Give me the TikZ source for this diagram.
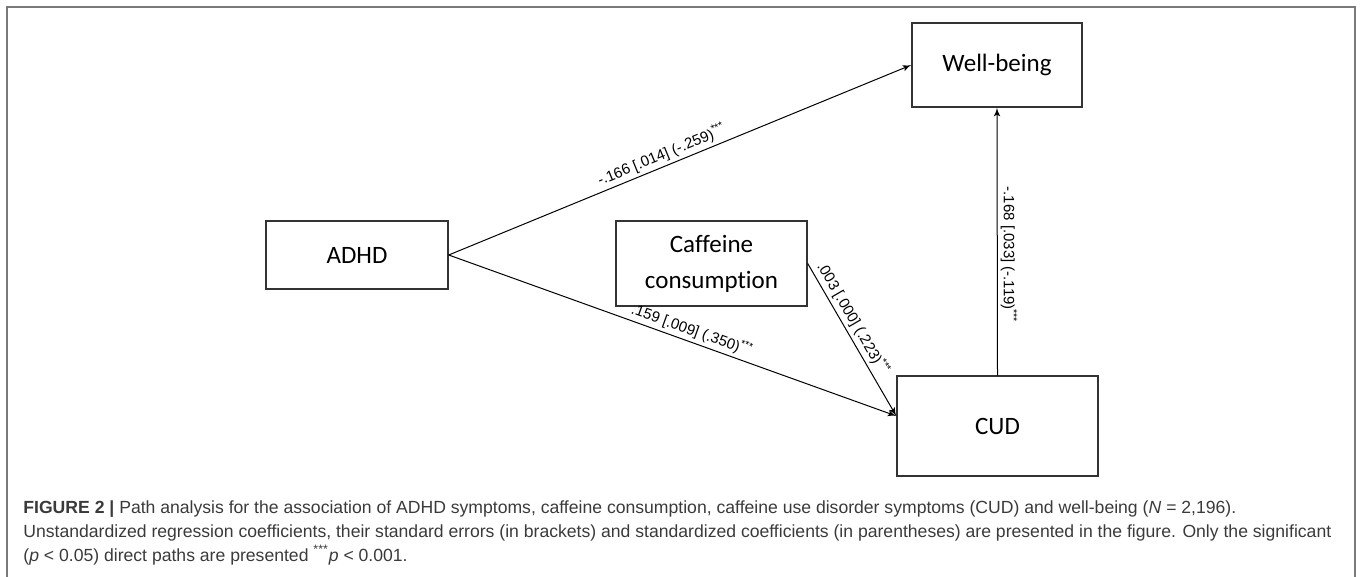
\documentclass[tikz,border=0pt]{standalone}
\usepackage{fontspec}
\setmainfont{Liberation Sans}
\newfontfamily\boxfont[Ligatures=NoCommon]{Carlito}
\usetikzlibrary{arrows}

\definecolor{framegray}{HTML}{7A7A7A}
\definecolor{boxline}{HTML}{333333}
\definecolor{captext}{HTML}{3A3A3A}

\begin{document}
\begin{tikzpicture}[>=latex', x=0.5pt, y=-0.5pt,
  varbox/.style={draw=boxline, line width=0.7pt, inner sep=0pt, align=center,
    font=\boxfont\fontsize{12.5}{18}\selectfont, text=black},
  conn/.style={->, line width=0.5pt},
  coef/.style={font=\fontsize{7.5}{9}\selectfont, sloped, above, inner sep=1.5pt},
  capline/.style={anchor=base west, inner sep=0pt, text=captext,
    font=\fontsize{8.8}{12}\selectfont}]
\useasboundingbox (0,0) rectangle (1360,577);
% frame
\draw[framegray, line width=1pt] (7,577) -- (7,7) -- (1355,7) -- (1355,577);
% variables
\node[varbox, minimum width=91pt, minimum height=34pt] (adhd) at (357,255) {ADHD};
\node[varbox, minimum width=95.5pt, minimum height=42.5pt] (caffeine) at (711.5,263.5) {Caffeine\\consumption};
\node[varbox, minimum width=85pt, minimum height=42pt] (wellbeing) at (997,65) {Well-being};
\node[varbox, minimum width=100.5pt, minimum height=50pt] (cud) at (997.5,426) {CUD};
\coordinate (cudin) at ([yshift=5pt]cud.west);
% paths
\draw[conn] (adhd.east) -- (wellbeing.west)
  node[coef, pos=0.47] {-.166 [.014] (-.259)\textsuperscript{***}};
\draw[conn] (adhd.east) -- (cudin)
  node[coef, pos=0.535] {.159 [.009] (.350)\textsuperscript{***}};
\draw[conn] (caffeine.east) -- (cudin)
  node[coef, pos=0.4] {.003 [.000] (.223)\textsuperscript{***}};
\draw[conn] (cud.north) -- (wellbeing.south)
  node[coef, pos=0.45] {-.168 [.033] (-.119)\textsuperscript{***}};
% caption
\node[capline] (cap1) at (23,513) {\textbf{FIGURE 2 |} Path analysis for the association of ADHD symptoms, caffeine consumption, caffeine use disorder symptoms (CUD) and well-being (\textit{N} = 2,196).};
\node[capline] (cap2) at (23,537) {Unstandardized regression coefficients, their standard errors (in brackets) and standardized coefficients (in parentheses) are presented in the figure. Only the significant};
\node[capline] (cap3) at (23,561) {(\textit{p} < 0.05) direct paths are presented \textsuperscript{***}\textit{p} < 0.001.};
\end{tikzpicture}
\end{document}
